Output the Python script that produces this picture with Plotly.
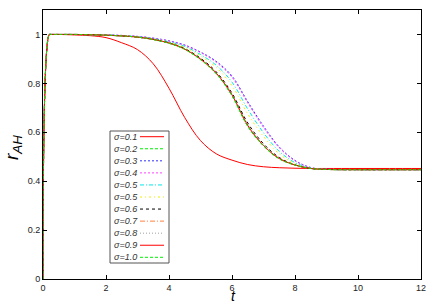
import plotly.graph_objects as go

T = [0, 0.2, 0.25, 0.5, 1, 1.5, 2, 2.5, 3, 3.5, 4, 4.5, 5, 5.5, 6, 6.5, 7, 7.5, 8, 8.5, 9, 10, 11, 12]

s01 = [0, 1.0, 1.0, 1.0, 0.998, 0.995, 0.987, 0.966, 0.938, 0.88, 0.78, 0.66, 0.566, 0.512, 0.486, 0.468, 0.459, 0.455, 0.453, 0.452, 0.452, 0.452, 0.452, 0.452]
s02 = [0, 1.0, 1.0, 1.0, 1.0, 0.999, 0.997, 0.994, 0.989, 0.979, 0.964, 0.94, 0.898, 0.84, 0.75, 0.625, 0.545, 0.492, 0.466, 0.452, 0.448, 0.447, 0.447, 0.447]
s03 = [0, 1.0, 1.0, 1.0, 1.0, 0.999, 0.998, 0.996, 0.992, 0.985, 0.974, 0.957, 0.928, 0.89, 0.83, 0.725, 0.625, 0.54, 0.485, 0.456, 0.449, 0.447, 0.447, 0.447]
s04 = [0, 1.0, 1.0, 1.0, 1.0, 0.999, 0.998, 0.996, 0.992, 0.985, 0.973, 0.955, 0.926, 0.886, 0.825, 0.72, 0.62, 0.537, 0.483, 0.455, 0.449, 0.447, 0.447, 0.447]
s05a = [0, 1.0, 1.0, 1.0, 1.0, 0.999, 0.998, 0.995, 0.991, 0.983, 0.97, 0.951, 0.918, 0.874, 0.805, 0.695, 0.598, 0.522, 0.476, 0.454, 0.448, 0.447, 0.447, 0.447]
s05b = [0, 1.0, 1.0, 1.0, 1.0, 0.999, 0.997, 0.995, 0.99, 0.982, 0.968, 0.947, 0.912, 0.865, 0.79, 0.675, 0.583, 0.512, 0.472, 0.453, 0.448, 0.447, 0.447, 0.447]
s06 = [0, 1.0, 1.0, 1.0, 1.0, 0.999, 0.997, 0.994, 0.989, 0.98, 0.966, 0.942, 0.903, 0.847, 0.76, 0.638, 0.553, 0.497, 0.467, 0.452, 0.448, 0.447, 0.447, 0.447]
s07 = [0, 1.0, 1.0, 1.0, 1.0, 0.999, 0.997, 0.994, 0.989, 0.979, 0.965, 0.94, 0.899, 0.841, 0.752, 0.627, 0.546, 0.493, 0.466, 0.452, 0.448, 0.447, 0.447, 0.447]
s08 = [0, 1.0, 1.0, 1.0, 1.0, 0.999, 0.997, 0.994, 0.989, 0.979, 0.964, 0.94, 0.898, 0.84, 0.751, 0.626, 0.545, 0.492, 0.466, 0.452, 0.448, 0.447, 0.447, 0.447]
s09 = [0, 1.0, 1.0, 1.0, 1.0, 0.999, 0.997, 0.994, 0.989, 0.98, 0.965, 0.94, 0.899, 0.842, 0.753, 0.628, 0.546, 0.493, 0.466, 0.452, 0.448, 0.447, 0.447, 0.447]
s10 = [0, 1.0, 1.0, 1.0, 1.0, 0.999, 0.997, 0.994, 0.989, 0.979, 0.964, 0.939, 0.897, 0.839, 0.749, 0.624, 0.544, 0.491, 0.466, 0.452, 0.448, 0.447, 0.447, 0.447]

labels = ["σ=0.1", "σ=0.2", "σ=0.3", "σ=0.4", "σ=0.5", "σ=0.5", "σ=0.6", "σ=0.7", "σ=0.8", "σ=0.9", "σ=1.0"]
series = [s01, s02, s03, s04, s05a, s05b, s06, s07, s08, s09, s10]
colors = ["#ff0000", "#00ee00", "#3030ff", "#ff40ff", "#00e8e8", "#f0f000", "#000000", "#ff8040", "#a0a0a0", "#ff0000", "#00ee00"]
dashes = ["solid", "3px,2px", "2px,2px", "2px,2px", "4px,2px,1px,2px", "2px,3px,1px,3px", "3px,3px", "5px,2px,1px,2px", "1px,2px", "solid", "3px,2px"]

fig = go.Figure()
for lab, ys, c, d in zip(labels, series, colors, dashes):
    fig.add_trace(go.Scatter(x=T, y=ys, mode="lines", name=lab, showlegend=False,
                             line=dict(color=c, width=1, dash=d, shape="spline", smoothing=1.0)))

W, H = 436, 305
ml, mr, mt, mb = 43, 15, 10, 26
pw, ph = W - ml - mr, H - mt - mb

def px(xp):
    return (xp - ml) / pw

def py(yp):
    return (H - mb - yp) / ph

shapes = [dict(type="rect", xref="paper", yref="paper", x0=px(110), x1=px(169), y0=py(263), y1=py(131),
               line=dict(color="#555555", width=1), fillcolor="white", layer="above")]
annotations = []
for i, (lab, c, d) in enumerate(zip(labels, colors, dashes)):
    yy = 136.7 + 12.06 * i
    shapes.append(dict(type="line", xref="paper", yref="paper", x0=px(140), x1=px(164), y0=py(yy), y1=py(yy),
                       line=dict(color=c, width=1, dash=d), layer="above"))
    annotations.append(dict(xref="paper", yref="paper", x=px(112), y=py(yy), text="<i>" + lab + "</i>",
                            showarrow=False, xanchor="left", yanchor="middle",
                            font=dict(family="Liberation Sans", size=9, color="#333333")))

annotations.append(dict(xref="paper", yref="paper", x=px(233), y=py(305), text="<i>t</i>", showarrow=False,
                        xanchor="center", yanchor="bottom", borderpad=0,
                        font=dict(family="Liberation Sans", size=14, color="#000000")))
annotations.append(dict(xref="paper", yref="paper", x=px(13), y=py(148), text="<i>r<sub>AH</sub></i>", showarrow=False,
                        textangle=-90, xanchor="center", yanchor="middle",
                        font=dict(family="Liberation Sans", size=19, color="#000000")))

axis_common = dict(showline=True, linecolor="black", linewidth=1, mirror="ticks", ticks="inside", ticklen=4,
                   tickcolor="black", showgrid=False, zeroline=False,
                   tickfont=dict(family="Liberation Sans", size=9, color="#222222"))

fig.update_layout(
    width=W, height=H, margin=dict(l=ml, r=mr, t=mt, b=mb, autoexpand=False),
    paper_bgcolor="white", plot_bgcolor="white",
    xaxis=dict(range=[0, 12], tickvals=[0, 2, 4, 6, 8, 10, 12], **axis_common),
    yaxis=dict(range=[0, 1.1], tickvals=[0, 0.2, 0.4, 0.6, 0.8, 1], ticktext=["0", "0.2", "0.4", "0.6", "0.8", "1"], **axis_common),
    shapes=shapes, annotations=annotations, showlegend=False,
)

fig.write_html("out.html", config={"displayModeBar": False},
               post_script="document.body.style.margin='0';document.body.style.padding='0';")
